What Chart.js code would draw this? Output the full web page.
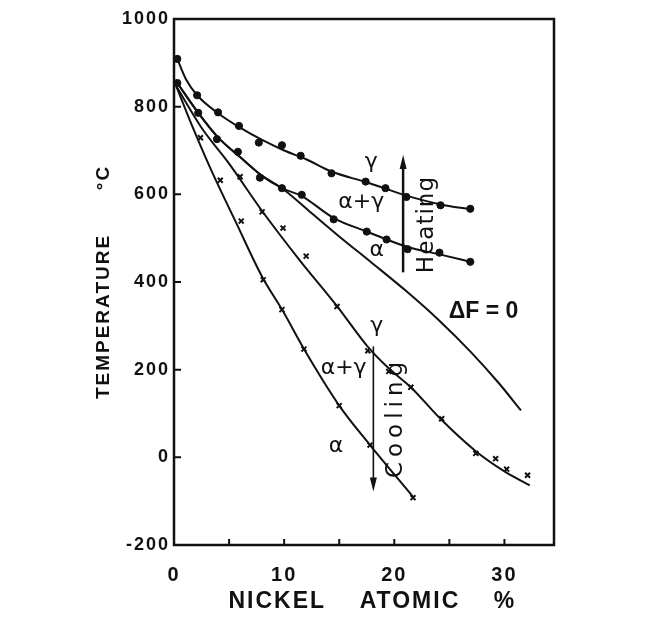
<!DOCTYPE html>
<html>
<head>
<meta charset="utf-8">
<script src="https://cdn.jsdelivr.net/npm/chart.js@4.4.0/dist/chart.umd.min.js"></script>
<style>
  html, body { margin: 0; padding: 0; background: #fff; }
</style>
</head>
<body>
<canvas id="chartNickel" width="645" height="639"></canvas>
<script>
// heating curve, upper (gamma boundary) - dots
const heatGammaX = [0.3, 2.1, 4.0, 5.9, 7.7, 9.8, 11.5, 14.3, 17.4, 19.2, 21.1, 24.2, 26.9];
const heatGammaY = [909, 826, 787, 756, 718, 712, 688, 648, 629, 614, 594, 575, 567];
const heatGammaLineX = [0.3, 1.1, 2.1, 4.0, 6.0, 8.0, 10.0, 12.0, 14.3, 17.4, 19.2, 21.1, 24.2, 26.9];
const heatGammaLineY = [909, 862, 826, 785, 752, 724, 700, 680, 652, 628, 613, 597, 577, 566];

// heating curve, lower (alpha boundary) - dots
const heatAlphaX = [0.3, 2.2, 3.9, 5.8, 7.8, 9.8, 11.6, 14.5, 17.5, 19.3, 21.2, 24.1, 26.9];
const heatAlphaY = [854, 786, 726, 697, 638, 614, 599, 543, 515, 497, 475, 467, 446];
const heatAlphaLineX = [0.3, 2.2, 4.0, 6.0, 8.0, 9.8, 11.6, 14.5, 17.5, 19.3, 21.2, 24.1, 26.9];
const heatAlphaLineY = [854, 786, 730, 685, 642, 614, 596, 546, 515, 497, 480, 463, 446];

// delta F = 0 curve
const deltaFX = [0.3, 2.2, 4.0, 6.0, 8.0, 9.8, 12.5, 15.0, 18.0, 21.0, 24.0, 27.0, 29.5, 31.5];
const deltaFY = [854, 786, 730, 685, 642, 614, 557, 504, 443, 381, 314, 239, 169, 107];

// cooling curve, right (gamma boundary) - crosses
const coolGammaLineX = [0.2, 2.5, 5.0, 8.0, 11.4, 14.8, 17.6, 19.5, 21.5, 24.3, 27.4, 30.0, 32.3];
const coolGammaLineY = [847, 752, 670, 562, 450, 345, 252, 203, 160, 85, 14, -32, -64];
const coolGammaX = [6.0, 8.0, 9.9, 12.0, 14.8, 17.6, 19.5, 21.5, 24.3, 27.4, 29.2, 30.2, 32.1];
const coolGammaY = [640, 560, 523, 459, 344, 243, 196, 160, 88, 9, -3, -27, -41];

// cooling curve, left (alpha boundary) - crosses
const coolAlphaLineX = [0.2, 1.8, 3.4, 5.7, 8.0, 9.9, 11.8, 15.0, 17.8, 21.7];
const coolAlphaLineY = [847, 747, 654, 532, 412, 333, 247, 118, 28, -90];
const coolAlphaX = [2.4, 4.2, 6.1, 8.1, 9.8, 11.8, 15.0, 17.8, 21.7];
const coolAlphaY = [729, 632, 539, 405, 337, 247, 118, 28, -92];

const xTickLabels = [0, 10, 20, 30];
const xTickMarks = [5, 10, 15, 20, 25, 30];
const yTickMarks = [0, 200, 400, 600, 800];

// phase labels, placed in data units
const notes = [
    {text: 'γ', x: 17.9, y: 673},
    {text: 'α+γ', x: 17.0, y: 583},
    {text: 'α', x: 18.4, y: 472},
    {text: 'γ', x: 18.4, y: 298},
    {text: 'α+γ', x: 15.4, y: 203},
    {text: 'α', x: 14.7, y: 26},
    {text: 'ΔF = 0', x: 28.1, y: 332, bold: true},
    {text: 'Heating', x: 23.0, y: 531, turn: true, gap: 1},
    {text: 'Cooling', x: 20.2, y: 91, turn: true, gap: 5}
];
const arrows = [
    {x: 20.8, from: 422, to: 690, width: 2.5},
    {x: 18.1, from: 253, to: -78, width: 1.6}
];

const ink = '#111';

function pairs(xs, ys) {
    return xs.map((x, i) => ({x: x, y: ys[i]}));
}

function curve(xs, ys) {
    return {
        data: pairs(xs, ys),
        showLine: true,
        borderColor: ink,
        borderWidth: 2,
        pointRadius: 0,
        cubicInterpolationMode: 'monotone'
    };
}

function dots(xs, ys) {
    return {
        data: pairs(xs, ys),
        showLine: false,
        pointStyle: 'circle',
        pointRadius: 3.6,
        backgroundColor: ink,
        borderColor: ink
    };
}

function crosses(xs, ys) {
    return {
        data: pairs(xs, ys),
        showLine: false,
        pointStyle: 'crossRot',
        pointRadius: 3.5,
        borderWidth: 2,
        borderColor: ink
    };
}

const notesPlugin = {
    id: 'notes',
    beforeDraw(chart) {
        chart.ctx.letterSpacing = '2px';
    },
    afterDatasetsDraw(chart) {
        const {ctx, chartArea: a, scales: {x, y}} = chart;
        ctx.save();
        ctx.letterSpacing = '0px';
        ctx.strokeStyle = ink;
        ctx.fillStyle = ink;

        // frame
        ctx.lineWidth = 2.5;
        ctx.strokeRect(a.left, a.top, a.right - a.left, a.bottom - a.top);

        // inward ticks
        ctx.lineWidth = 2;
        ctx.beginPath();
        xTickMarks.forEach(v => {
            const px = x.getPixelForValue(v);
            ctx.moveTo(px, a.bottom);
            ctx.lineTo(px, a.bottom - 6);
        });
        yTickMarks.forEach(v => {
            const py = y.getPixelForValue(v);
            ctx.moveTo(a.left, py);
            ctx.lineTo(a.left + 7, py);
        });
        ctx.stroke();

        // heating / cooling arrows
        arrows.forEach(ar => {
            const px = x.getPixelForValue(ar.x);
            const p0 = y.getPixelForValue(ar.from);
            const p1 = y.getPixelForValue(ar.to);
            const dir = p1 < p0 ? -1 : 1;
            ctx.lineWidth = ar.width;
            ctx.beginPath();
            ctx.moveTo(px, p0);
            ctx.lineTo(px, p1 - dir * 10);
            ctx.stroke();
            ctx.beginPath();
            ctx.moveTo(px, p1);
            ctx.lineTo(px - 3.5, p1 - dir * 14);
            ctx.lineTo(px + 3.5, p1 - dir * 14);
            ctx.closePath();
            ctx.fill();
        });

        // phase labels
        ctx.textAlign = 'center';
        ctx.textBaseline = 'middle';
        notes.forEach(n => {
            const px = x.getPixelForValue(n.x);
            const py = y.getPixelForValue(n.y);
            ctx.save();
            ctx.translate(px, py);
            if (n.bold) {
                ctx.font = 'bold 23px "Liberation Sans", Arial, sans-serif';
            } else if (n.turn) {
                ctx.font = '23px "DejaVu Sans", sans-serif';
                ctx.letterSpacing = n.gap + 'px';
                ctx.rotate(-Math.PI / 2);
            } else {
                ctx.font = '22px "DejaVu Sans", sans-serif';
            }
            ctx.fillText(n.text, 0, 0);
            ctx.restore();
        });
        ctx.restore();
    }
};

const ctx = document.getElementById('chartNickel').getContext('2d');
const myChart = new Chart(ctx, {
    type: 'scatter',
    data: {
        datasets: [
            curve(heatGammaLineX, heatGammaLineY),
            dots(heatGammaX, heatGammaY),
            curve(heatAlphaLineX, heatAlphaLineY),
            dots(heatAlphaX, heatAlphaY),
            curve(deltaFX, deltaFY),
            curve(coolGammaLineX, coolGammaLineY),
            crosses(coolGammaX, coolGammaY),
            curve(coolAlphaLineX, coolAlphaLineY),
            crosses(coolAlphaX, coolAlphaY)
        ]
    },
    options: {
        responsive: false,
        animation: false,
        events: [],
        layout: {padding: {left: 92, top: 19, right: 91, bottom: 24}},
        plugins: {
            legend: {display: false},
            tooltip: {enabled: false}
        },
        scales: {
            x: {
                type: 'linear',
                min: 0,
                max: 34.5,
                grid: {display: false, drawTicks: false},
                border: {display: false},
                ticks: {
                    stepSize: 5,
                    includeBounds: false,
                    autoSkip: false,
                    maxRotation: 0,
                    padding: 18,
                    color: ink,
                    font: {family: '"Liberation Sans", Arial, sans-serif', weight: 'bold', size: 20},
                    callback: v => xTickLabels.includes(v) ? String(v) : ''
                },
                title: {
                    display: true,
                    text: '  NICKEL    ATOMIC    %',
                    color: ink,
                    padding: 0,
                    font: {family: '"Liberation Sans", Arial, sans-serif', weight: 'bold', size: 23}
                },
                afterFit: s => { s.height = 70; }
            },
            y: {
                min: -200,
                max: 1000,
                grid: {display: false, drawTicks: false},
                border: {display: false},
                ticks: {
                    stepSize: 200,
                    padding: 4,
                    color: ink,
                    font: {family: '"Liberation Sans", Arial, sans-serif', weight: 'bold', size: 18},
                    callback: v => String(v)
                },
                title: {
                    display: true,
                    text: 'TEMPERATURE      °C',
                    color: ink,
                    padding: 0,
                    font: {family: '"Liberation Sans", Arial, sans-serif', weight: 'bold', size: 19}
                },
                afterFit: s => { s.width = 82; }
            }
        }
    },
    plugins: [notesPlugin]
});
</script>
</body>
</html>
